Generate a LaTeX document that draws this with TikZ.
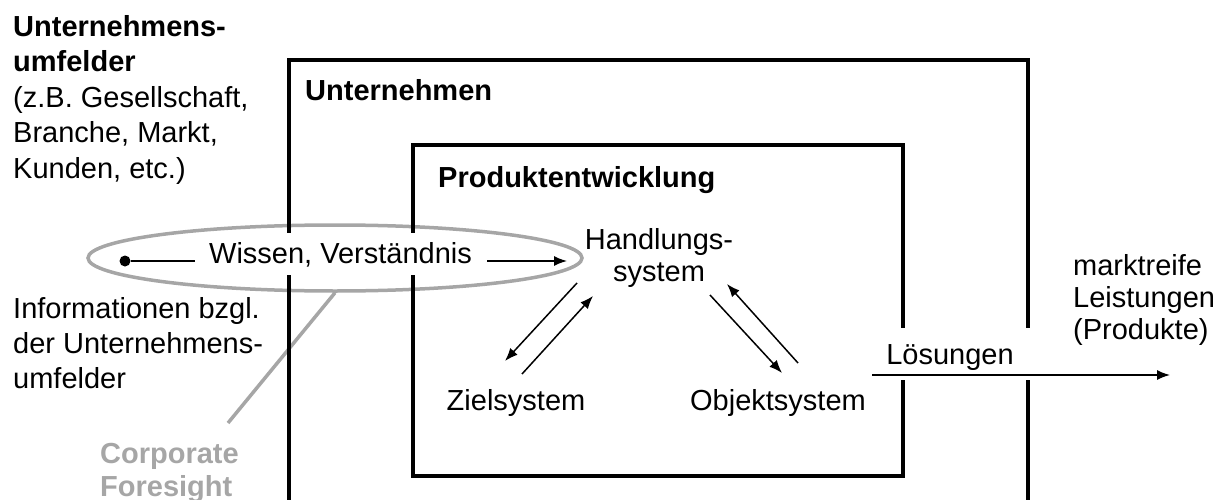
\documentclass[tikz,border=0pt]{standalone}
\usepackage{fontspec}
\setmainfont{Liberation Sans}
\usetikzlibrary{arrows.meta,shapes.geometric}
\definecolor{fsgray}{RGB}{166,166,166}
\begin{document}
\begin{tikzpicture}[x=1pt,y=-1pt,
  txt/.style={inner sep=0pt, font=\fontsize{29}{35}\selectfont},
  boxline/.style={line width=4pt},
  thin line/.style={line width=1.5pt},
  flow/.style={line width=1.5pt,-{Latex[length=13pt,width=10pt]}},
  cover/.style={fill=white},
  ]
\useasboundingbox (0,0) rectangle (1231,500);

% corporate foresight ellipse and its pointer
\node[ellipse, draw=fsgray, line width=3.5pt, minimum width=494pt,
      minimum height=66pt, inner sep=0pt] (fs) at (335,258) {};
\coordinate (fstip) at (228,423);
\draw[fsgray, line width=3.5pt] (fs.south) -- (fstip);

% company box (open at the bottom) and product development box
\draw[boxline] (289,500) -- (289,60) -- (1028,60) -- (1028,500);
\draw[boxline] (413,145) rectangle (903,476);

% titles
\node[txt, anchor=base west] (unt) at (305,101) {\textbf{Unternehmen}};
\node[txt, anchor=base west] (pe) at (438,187) {\textbf{Produktentwicklung}};

\node[txt, align=left, anchor=north west, font=\fontsize{29}{35.5}\selectfont]
  (env) at (13,15) {\textbf{Unternehmens-}\\\textbf{umfelder}\\(z.B. Gesellschaft,\\Branche, Markt,\\Kunden, etc.)};

\node[txt, align=left, anchor=north west, font=\fontsize{29}{35}\selectfont]
  (info) at (13,297) {Informationen bzgl.\\der Unternehmens-\\umfelder};

\node[txt, align=left, anchor=north west, text=fsgray,
      font=\fontsize{29}{33}\bfseries]
  (cf) at (100,443) {Corporate\\Foresight};

% knowledge flow into the product development
\node[txt, anchor=base, cover, text height=30pt, text depth=12pt, inner xsep=6pt]
  (wv) at (340.5,263) {Wissen, Verständnis};
\node[circle, fill, inner sep=0pt, minimum size=11pt] (dot) at (125,261) {};
\coordinate (wvL) at (195,261);
\coordinate (wvR) at (487,261);
\coordinate (wvE) at (567,261);
\draw[thin line] (dot) -- (wvL);
\draw[flow] (wvR) -- (wvE);

% system nodes
\node[txt, align=center, anchor=north, font=\fontsize{29}{32}\selectfont]
  (hs) at (659,228) {Handlungs-\\system};
\node[txt, anchor=base] (zs) at (516,410) {Zielsystem};
\node[txt, anchor=base] (os) at (778,410) {Objektsystem};

\coordinate (a1s) at (577,283); \coordinate (a1e) at (505,361);
\coordinate (a2s) at (522,374); \coordinate (a2e) at (593,296);
\coordinate (a3s) at (710,295); \coordinate (a3e) at (782,373);
\coordinate (a4s) at (798,363); \coordinate (a4e) at (727,284);
\draw[flow] (a1s) -- (a1e);
\draw[flow] (a2s) -- (a2e);
\draw[flow] (a3s) -- (a3e);
\draw[flow] (a4s) -- (a4e);

% solutions leaving the company
\node[txt, anchor=base, cover, text height=36pt, text depth=16pt, inner xsep=20pt]
  (loes) at (950,364) {Lösungen};
\coordinate (lsA) at (872,375);
\coordinate (lsB) at (1170,375);
\draw[flow] (lsA) -- (lsB);

\node[txt, align=left, anchor=north west, font=\fontsize{29}{32}\selectfont]
  (mk) at (1073,254) {marktreife\\Leistungen\\(Produkte)};
\end{tikzpicture}
\end{document}
